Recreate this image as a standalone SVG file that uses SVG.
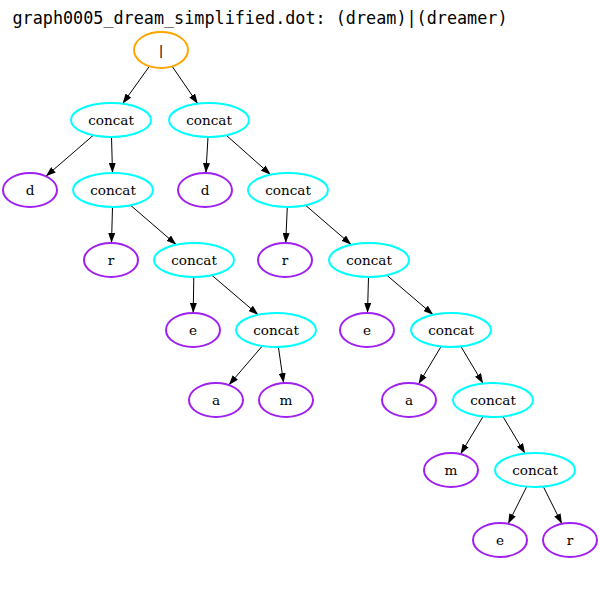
<svg xmlns="http://www.w3.org/2000/svg" width="600" height="600" viewBox="0 0 600 600">
<style>
.n ellipse{fill:#fff;stroke-width:2}
.op ellipse{stroke:#ffa500}
.cc ellipse{stroke:#00ffff}
.lf ellipse{stroke:#a020f0}
.n text{font-family:"DejaVu Serif","Liberation Serif",serif;font-size:13.6px;text-anchor:middle;fill:#000}
#edges line{stroke:#000;stroke-width:1;marker-end:url(#ah)}
.title{font-family:"DejaVu Sans Mono",monospace;font-size:16.8px;text-anchor:middle;fill:#000}
</style>
<defs>
<marker id="ah" viewBox="0 0 10 7" refX="10" refY="3.5" markerWidth="10" markerHeight="7" markerUnits="userSpaceOnUse" orient="auto">
<path d="M0,0 L10,3.5 L0,7 Z" fill="#000"/>
</marker>
</defs>
<rect width="600" height="600" fill="#fff"/>
<text class="title" x="260" y="24">graph0005_dream_simplified.dot: (dream)|(dreamer)</text>
<g id="edges">
<line x1="149.4" y1="66.3" x2="122.6" y2="103.7"/>
<line x1="172.2" y1="66.4" x2="197.8" y2="103.7"/>
<line x1="93.3" y1="135.3" x2="45.9" y2="176.3"/>
<line x1="111.5" y1="137" x2="112.5" y2="173"/>
<line x1="208" y1="137" x2="205.9" y2="173"/>
<line x1="226.3" y1="135.3" x2="270.7" y2="174.7"/>
<line x1="112.5" y1="207" x2="111.5" y2="243"/>
<line x1="130.6" y1="205.3" x2="176.3" y2="244.7"/>
<line x1="287.3" y1="207" x2="285.7" y2="243"/>
<line x1="305.6" y1="205.3" x2="351.3" y2="244.7"/>
<line x1="193.8" y1="277" x2="193.2" y2="313"/>
<line x1="211.8" y1="275.2" x2="258.2" y2="314.8"/>
<line x1="368.5" y1="277" x2="367.5" y2="313"/>
<line x1="386.8" y1="275.2" x2="433.2" y2="314.8"/>
<line x1="262.3" y1="346" x2="228.8" y2="385"/>
<line x1="278.4" y1="347" x2="283.6" y2="383.1"/>
<line x1="441.1" y1="346.5" x2="418.5" y2="384.1"/>
<line x1="460.9" y1="346.5" x2="483.1" y2="383.5"/>
<line x1="483.1" y1="416.5" x2="460.5" y2="454.1"/>
<line x1="502.9" y1="416.5" x2="525.1" y2="453.5"/>
<line x1="526.7" y1="486.6" x2="508.1" y2="523.8"/>
<line x1="543.3" y1="486.6" x2="561.9" y2="523.8"/>
</g>
<g id="n0" class="n op"><ellipse cx="161" cy="50" rx="27" ry="18"/><text x="161" y="54.5">|</text></g>
<g id="c1" class="n cc"><ellipse cx="111" cy="120" rx="40" ry="17"/><text x="111" y="124.5">concat</text></g>
<g id="c2" class="n cc"><ellipse cx="209" cy="120" rx="40" ry="17"/><text x="209" y="124.5">concat</text></g>
<g id="d1" class="n lf"><ellipse cx="30" cy="190" rx="27" ry="17"/><text x="30" y="194.5">d</text></g>
<g id="c3" class="n cc"><ellipse cx="113" cy="190" rx="40" ry="17"/><text x="113" y="194.5">concat</text></g>
<g id="d2" class="n lf"><ellipse cx="205" cy="190" rx="27" ry="17"/><text x="205" y="194.5">d</text></g>
<g id="c4" class="n cc"><ellipse cx="288" cy="190" rx="40" ry="17"/><text x="288" y="194.5">concat</text></g>
<g id="r1" class="n lf"><ellipse cx="111" cy="260" rx="27" ry="17"/><text x="111" y="264.5">r</text></g>
<g id="c5" class="n cc"><ellipse cx="194" cy="260" rx="40" ry="17"/><text x="194" y="264.5">concat</text></g>
<g id="r2" class="n lf"><ellipse cx="285" cy="260" rx="27" ry="17"/><text x="285" y="264.5">r</text></g>
<g id="c6" class="n cc"><ellipse cx="369" cy="260" rx="40" ry="17"/><text x="369" y="264.5">concat</text></g>
<g id="e1" class="n lf"><ellipse cx="193" cy="330" rx="27" ry="17"/><text x="193" y="334.5">e</text></g>
<g id="c7" class="n cc"><ellipse cx="276" cy="330" rx="40" ry="17"/><text x="276" y="334.5">concat</text></g>
<g id="e2" class="n lf"><ellipse cx="367" cy="330" rx="27" ry="17"/><text x="367" y="334.5">e</text></g>
<g id="c8" class="n cc"><ellipse cx="451" cy="330" rx="40" ry="17"/><text x="451" y="334.5">concat</text></g>
<g id="a1" class="n lf"><ellipse cx="216" cy="400" rx="27" ry="17"/><text x="216" y="404.5">a</text></g>
<g id="m1" class="n lf"><ellipse cx="286" cy="400" rx="27" ry="17"/><text x="286" y="404.5">m</text></g>
<g id="a2" class="n lf"><ellipse cx="409" cy="400" rx="27" ry="17"/><text x="409" y="404.5">a</text></g>
<g id="c9" class="n cc"><ellipse cx="493" cy="400" rx="40" ry="17"/><text x="493" y="404.5">concat</text></g>
<g id="m2" class="n lf"><ellipse cx="451" cy="470" rx="27" ry="17"/><text x="451" y="474.5">m</text></g>
<g id="c10" class="n cc"><ellipse cx="535" cy="470" rx="40" ry="17"/><text x="535" y="474.5">concat</text></g>
<g id="e3" class="n lf"><ellipse cx="500" cy="540" rx="27" ry="17"/><text x="500" y="544.5">e</text></g>
<g id="r3" class="n lf"><ellipse cx="570" cy="540" rx="27" ry="17"/><text x="570" y="544.5">r</text></g>
</svg>
